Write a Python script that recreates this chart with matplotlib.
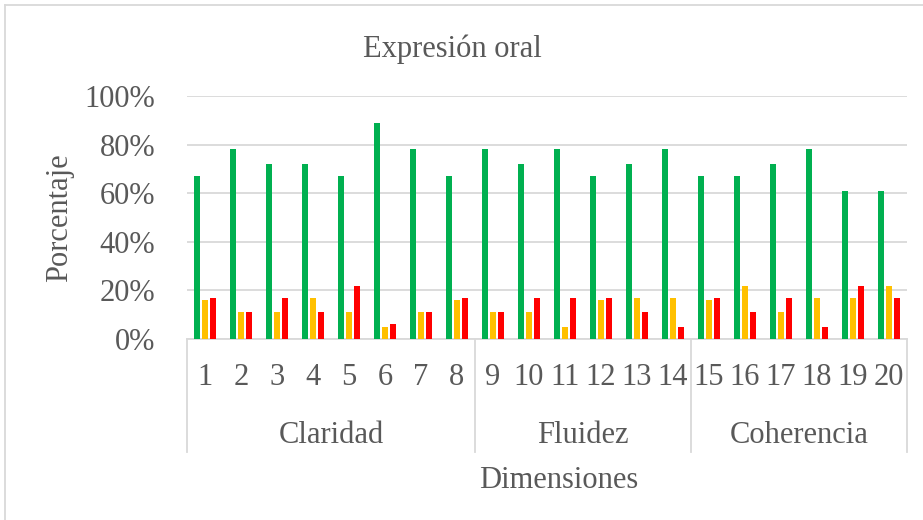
import matplotlib
matplotlib.use("Agg")
import matplotlib.pyplot as plt
import matplotlib.transforms as mtransforms
from matplotlib.lines import Line2D
import numpy as np

categories = [str(i) for i in range(1, 21)]
groups = ["Claridad", "Fluidez", "Coherencia"]
group_sizes = [8, 6, 6]
green_vals = [67, 78, 72, 72, 67, 89, 78, 67, 78, 72, 78, 67, 72, 78, 67, 67, 72, 78, 61, 61]
yellow_vals = [16, 11, 11, 17, 11, 5, 11, 16, 11, 11, 5, 16, 17, 17, 16, 22, 11, 17, 17, 22]
red_vals = [17, 11, 17, 11, 22, 6, 11, 17, 11, 17, 17, 17, 11, 5, 17, 11, 17, 5, 22, 17]
yticks = [0, 20, 40, 60, 80, 100]

plt.rcParams['font.family'] = ['Liberation Serif', 'DejaVu Serif']
TXT = '#595959'
GRID = '#D9D9D9'
FS = 22

W, H = 923, 520
fig = plt.figure(figsize=(W / 100, H / 100), dpi=100)
x0, x1, ytop, ybot = 187, 907, 96, 339
ax = fig.add_axes([x0 / W, (H - ybot) / H, (x1 - x0) / W, (ybot - ytop) / H])

x = np.arange(len(categories))
bw = 0.18
off = 0.222
series = [(green_vals, '#00B050', -off), (yellow_vals, '#FFC000', 0), (red_vals, '#FF0000', off)]
for vals, col, o in series:
    ax.bar(x + o, np.array(vals) / 100.0, width=bw, color=col, zorder=3, linewidth=0)

ax.set_xlim(-0.5, len(categories) - 0.5)
ax.set_ylim(0, 1)
ax.set_yticks([t / 100 for t in yticks])
ax.set_yticklabels([f"{t}%" for t in yticks])
ax.yaxis.grid(True, color=GRID, linewidth=1.3, zorder=0)
ax.set_axisbelow(True)
for s in ['top', 'right', 'left']:
    ax.spines[s].set_visible(False)
ax.spines['bottom'].set_color(GRID)
ax.spines['bottom'].set_linewidth(1.3)
ax.tick_params(axis='y', length=0, pad=23, labelsize=FS, labelcolor=TXT)
ax.set_xticks(x)
ax.set_xticklabels(categories)
ax.tick_params(axis='x', length=0, pad=17, labelsize=FS, labelcolor=TXT)

trans = mtransforms.blended_transform_factory(ax.transData, ax.transAxes)
low = -(452 - ybot) / (ybot - ytop)
bounds = [-0.5]
for g in group_sizes:
    bounds.append(bounds[-1] + g)
for b in bounds:
    ax.add_line(Line2D([b, b], [0, low], transform=trans, color=GRID, linewidth=1.3, clip_on=False))

gy = -(443 - ybot) / (ybot - ytop)
for i, g in enumerate(groups):
    cx = (bounds[i] + bounds[i + 1]) / 2
    ax.text(cx, gy, g, transform=trans, ha='center', va='baseline', fontsize=FS, color=TXT)

fig.text(452 / W, (H - 56.7) / H, "Expresión oral", ha='center', va='baseline', fontsize=FS, color=TXT)
fig.text(559 / W, (H - 488) / H, "Dimensiones", ha='center', va='baseline', fontsize=FS, color=TXT)
fig.text(60 / W, (H - 217.5) / H, "Porcentaje", ha='center', va='center', rotation=90, fontsize=FS, color=TXT)

# chart border (top and left visible)
fig.add_artist(Line2D([5 / W, 5 / W], [0, (H - 5) / H], transform=fig.transFigure, color=GRID, linewidth=1.3))
fig.add_artist(Line2D([5 / W, 1], [(H - 5) / H, (H - 5) / H], transform=fig.transFigure, color=GRID, linewidth=1.3))

fig.savefig("out.png", dpi=100)
